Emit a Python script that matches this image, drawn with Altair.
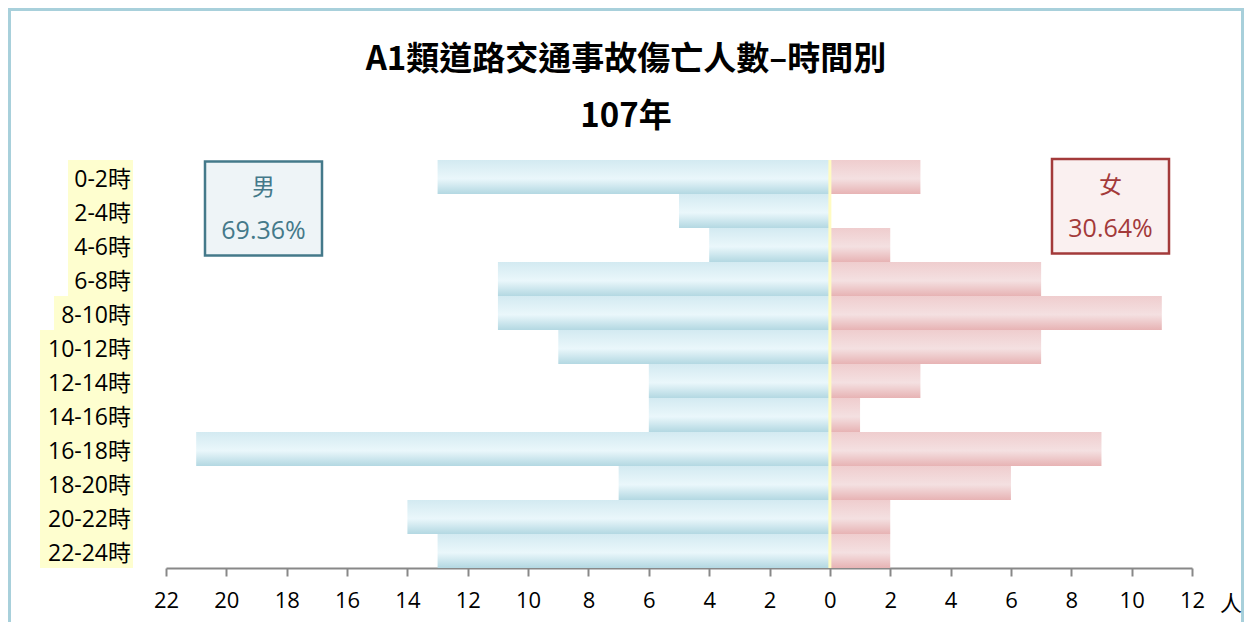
import altair as alt
import pandas as pd

FONT = "Open Sans, Noto Sans CJK TC"
TFONT = "Noto Sans CJK TC"

hours = ["0-2時", "2-4時", "4-6時", "6-8時", "8-10時", "10-12時",
         "12-14時", "14-16時", "16-18時", "18-20時", "20-22時", "22-24時"]
male = [13, 5, 4, 11, 11, 9, 6, 6, 21, 7, 14, 13]
female = [3, 0, 2, 7, 11, 7, 3, 1, 9, 6, 2, 2]
x_ticks = list(range(-22, 13, 2))
title_main = "A1類道路交通事故傷亡人數–時間別"
title_sub = "107年"
unit = "人"

total = sum(male) + sum(female)
male_pct = f"{sum(male) / total * 100:.2f}%"
female_pct = f"{sum(female) / total * 100:.2f}%"

rows = []
for h, m, f in zip(hours, male, female):
    rows.append({"hour": h, "sex": "男", "n": m})
    rows.append({"hour": h, "sex": "女", "n": f})
df = pd.DataFrame(rows)
df_h = pd.DataFrame({"hour": hours})
one = pd.DataFrame({"a": [0]})

W, H = 1026, 408

yenc = alt.Y("hour:N", sort=hours, scale=alt.Scale(paddingInner=0, paddingOuter=0), axis=None)
xscale = alt.Scale(domain=[-22, 12], nice=False, zero=False)

male_grad = alt.LinearGradient(
    gradient="linear", x1=0, x2=0, y1=0, y2=1,
    stops=[alt.GradientStop(color="#D3EAF1", offset=0),
           alt.GradientStop(color="#EAF7FB", offset=0.55),
           alt.GradientStop(color="#B3D8E2", offset=1)])
female_grad = alt.LinearGradient(
    gradient="linear", x1=0, x2=0, y1=0, y2=1,
    stops=[alt.GradientStop(color="#EFCDCE", offset=0),
           alt.GradientStop(color="#F4E0E1", offset=0.55),
           alt.GradientStop(color="#E7B3B4", offset=1)])

base = alt.Chart(df).transform_calculate(
    x="datum.sex == '男' ? -datum.n : datum.n")

xaxis = alt.Axis(values=x_ticks, labelExpr="abs(datum.value)", grid=False,
                 domainColor="#888888", domainWidth=2, tickColor="#888888",
                 tickWidth=2, tickSize=8, labelFontSize=22, labelColor="#000000",
                 labelFont=FONT, labelPadding=14, title=None, labelFlush=False)

male_bars = base.transform_filter("datum.sex == '男'").mark_bar(fill=male_grad, stroke=None).encode(
    x=alt.X("x:Q", scale=xscale, axis=xaxis), x2=alt.datum(0), y=yenc)
female_bars = base.transform_filter("datum.sex == '女'").mark_bar(fill=female_grad, stroke=None).encode(
    x=alt.X("x:Q", scale=xscale), x2=alt.datum(0), y=yenc)
center = alt.Chart(one).mark_rule(color="#FFFBC2", strokeWidth=3).encode(
    x=alt.X(datum=0, scale=xscale), y=alt.value(0), y2=alt.value(H))

data_layer = alt.layer(male_bars, female_bars, center)

frame = alt.Chart(one).mark_rect(fill=None, stroke="#A8D0DB", strokeWidth=3).encode(
    x=alt.value(-156.5), x2=alt.value(1076.5), y=alt.value(-150.5), y2=alt.value(480))

label_bg = alt.Chart(df_h).transform_calculate(lw="length(datum.hour)").mark_rect(
    fill="#FEFECF").encode(
    x=alt.X("lw:Q", scale=alt.Scale(domain=[0, 10], range=[-42, -182]), axis=None),
    x2=alt.value(-33), y=yenc)
labels = alt.Chart(df_h).mark_text(align="right", baseline="middle", fontSize=23, dy=3,
                                   font=FONT, color="#000000").encode(
    x=alt.value(-35), y=yenc, text="hour:N")

male_box = alt.Chart(one).mark_rect(fill="#EEF4F7", stroke="#44798A", strokeWidth=2.5).encode(
    x=alt.value(39), x2=alt.value(156), y=alt.value(1.5), y2=alt.value(95.5))
female_box = alt.Chart(one).mark_rect(fill="#FAF0F0", stroke="#A33A3A", strokeWidth=2.5).encode(
    x=alt.value(886), x2=alt.value(1003), y=alt.value(-1), y2=alt.value(93.5))


def txt(s, x, y, size, color="#000000", bold=False, align="center", font=FONT):
    return alt.Chart(one).mark_text(text=s, fontSize=size, font=font, color=color,
                                    fontWeight="bold" if bold else "normal",
                                    align=align, baseline="middle").encode(
        x=alt.value(x), y=alt.value(y))


texts = [
    txt(title_main, 460, -100, 33, bold=True, font=TFONT),
    txt(title_sub, 460, -43, 33, bold=True, font=TFONT),
    txt("男", 97.5, 28, 23, "#44798A", font=TFONT),
    txt(male_pct, 97.5, 71, 25, "#44798A"),
    txt("女", 944.5, 26, 23, "#A33A3A", font=TFONT),
    txt(female_pct, 944.5, 69, 25, "#A33A3A"),
    txt(unit, 1054, 444, 22, align="left", font=TFONT),
]

chart = alt.layer(frame, label_bg, labels, data_layer, male_box, female_box, *texts).resolve_scale(
    x="independent").properties(
    width=W, height=H,
    autosize=alt.AutoSizeParams(type="none"),
    padding={"left": 158, "top": 152, "right": 52, "bottom": 54},
    background="#FFFFFF",
).configure_view(stroke=None)

chart.save("out.html", embed_options={"renderer": "svg", "actions": False})
